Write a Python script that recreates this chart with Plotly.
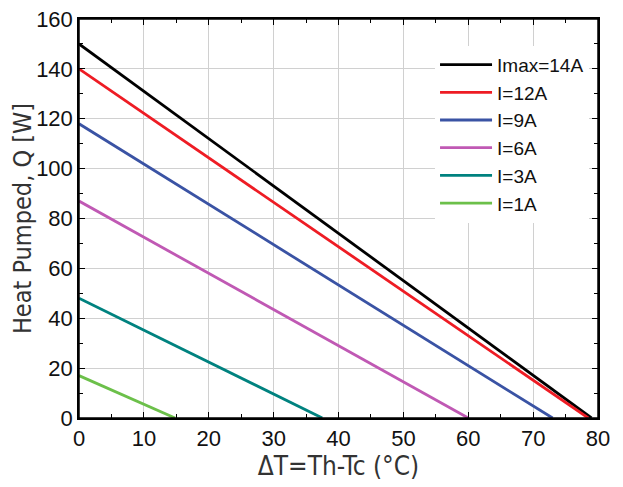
import plotly.graph_objects as go

names = ["Imax=14A", "I=12A", "I=9A", "I=6A", "I=3A", "I=1A"]
colors = ["#000000", "#ee1c24", "#3a53a4", "#c059b4", "#00827f", "#6cc04a"]
q_max = [150, 140, 118, 87, 48, 17]
dt_max = [79, 78.5, 73, 60, 37.5, 14.8]

fig = go.Figure()
for n, c, q, d in zip(names, colors, q_max, dt_max):
    fig.add_trace(go.Scatter(x=[0, d], y=[q, 0], mode="lines", name=n,
                             line=dict(color=c, width=2.8)))

tickfont = dict(family="Liberation Sans, Arial, sans-serif", size=22, color="#111")

fig.update_layout(
    width=623, height=487,
    margin=dict(l=71, r=33, t=11, b=77),
    plot_bgcolor="white", paper_bgcolor="white",
    showlegend=True,
    legend=dict(x=0.686, y=0.933, xanchor="left", yanchor="top",
                bgcolor="rgba(255,255,255,1)", borderwidth=0,
                font=dict(family="Liberation Sans, Arial, sans-serif", size=19, color="#111"),
                tracegroupgap=0, itemwidth=52),
    shapes=[dict(type="rect", xref="paper", yref="paper", x0=0, y0=0, x1=1, y1=1,
                 line=dict(color="black", width=1.5), layer="above")],
)
fig.update_xaxes(range=[0, 80], dtick=10, showgrid=True, gridcolor="#d0d0d0", gridwidth=1,
                 showline=True, linecolor="black", linewidth=1.5, mirror="ticks",
                 ticks="inside", ticklen=6, tickcolor="black", automargin=False,
                 ticklabeloverflow="allow",
                 minor=dict(dtick=5, ticks="inside", ticklen=4, tickcolor="black", showgrid=False),
                 tickfont=tickfont, zeroline=False,
                 title=dict(text="ΔT=Th-Tc (°C)", standoff=4,
                            font=dict(family="DejaVu Sans Condensed, sans-serif", size=26, color="#333")))
fig.update_yaxes(range=[0, 160], dtick=20, showgrid=True, gridcolor="#d0d0d0", gridwidth=1,
                 showline=True, linecolor="black", linewidth=1.5, mirror="ticks",
                 ticks="inside", ticklen=6, tickcolor="black", automargin=False,
                 ticklabeloverflow="allow",
                 minor=dict(dtick=10, ticks="inside", ticklen=4, tickcolor="black", showgrid=False),
                 tickfont=tickfont, zeroline=False,
                 title=dict(text="Heat Pumped, Q [W]", standoff=2,
                            font=dict(family="DejaVu Sans Condensed, sans-serif", size=25, color="#333")))

fig.write_html("out.html")
